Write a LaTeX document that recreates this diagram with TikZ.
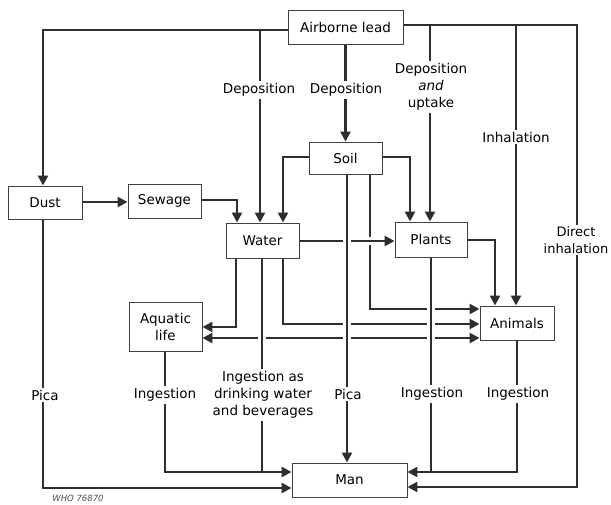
\documentclass[tikz,border=0pt]{standalone}
\usepackage{fontspec}
\setmainfont{DejaVu Sans}
\usetikzlibrary{arrows.meta,calc}
\pgfdeclarelayer{background}
\pgfsetlayers{background,main}
\begin{document}
\begin{tikzpicture}[x=1pt,y=-1pt,
  txt/.style={font=\fontsize{13.5}{17}\selectfont},
  box/.style={txt, draw=black!75, line width=0.9pt, fill=white, inner sep=0pt, align=center},
  lab/.style={txt, fill=white, inner sep=2pt, align=center},
  con/.style={draw=black!82, line width=2.6pt},
  arr/.style={con, -{Triangle[length=10pt,width=10pt]}},
  darr/.style={con, {Triangle[length=10pt,width=10pt]}-{Triangle[length=10pt,width=10pt]}},
  halo/.style={preaction={draw=white,line width=8pt,arrows=-}}
]
\useasboundingbox (0,0) rectangle (611,504);

% boxes
\node[box, minimum width=115pt, minimum height=34pt] (air) at (345.5,27) {Airborne lead};
\node[box, minimum width=73pt, minimum height=32pt] (soil) at (345.5,158) {Soil};
\node[box, minimum width=74pt, minimum height=33pt] (dust) at (45,202.5) {Dust};
\node[box, minimum width=73pt, minimum height=34pt] (sewage) at (164.5,201) {Sewage};
\node[box, minimum width=73pt, minimum height=35pt] (water) at (262.5,240.5) {Water};
\node[box, minimum width=72pt, minimum height=35pt] (plants) at (431,239.5) {Plants};
\node[box, minimum width=74pt, minimum height=34pt] (animals) at (517,323) {Animals};
\node[box, minimum width=73pt, minimum height=49pt] (aquatic) at (165.5,326.5) {Aquatic\\life};
\node[box, minimum width=115pt, minimum height=34pt] (man) at (349.5,480) {Man};

% bend / junction points
\coordinate (tl) at (43,30);
\coordinate (jw) at (260,30);
\coordinate (tr) at (577,25);
\coordinate (dr) at (577,487);
\coordinate (jp) at (430,25);
\coordinate (ja) at (516,25);
\coordinate (sw) at (283,157);
\coordinate (se) at (410,157);
\coordinate (sa) at (370,309);
\coordinate (wp) at (0,241);
\coordinate (wa) at (283,324);
\coordinate (aa) at (0,338);
\coordinate (wd) at (262,472);
\coordinate (smx) at (347,0);
\coordinate (pm) at (431,472);
\coordinate (am) at (517,472);
\coordinate (qm) at (165,472);
\coordinate (dm) at (43,488);
\coordinate (ds) at (0,202);
\coordinate (sv) at (237,200);
\coordinate (wq) at (236,327);
\coordinate (pa) at (495,240);

\begin{pgfonlayer}{background}
% from airborne lead
\draw[arr] (air.west |- tl) -- (tl) -- (tl |- dust.north);
\draw[arr] (jw) -- (jw |- water.north);
\draw[arr] (air.south) -- (soil.north);
\draw[arr] (air.east |- tr) -- (tr) -- (dr) -- (dr -| man.east);
\draw[arr] (jp) -- (jp |- plants.north);
\draw[arr] (ja) -- (ja |- animals.north);
% from soil
\draw[arr] (soil.west |- sw) -- (sw) -- (sw |- water.north);
\draw[arr] (soil.east |- se) -- (se) -- (se |- plants.north);
\draw[arr] (soil.south -| sa) -- (sa) -- (sa -| animals.west);
% dust, sewage
\draw[arr] (dust.east |- ds) -- (sewage.west |- ds);
\draw[arr] (sewage.east |- sv) -- (sv) -- (sv |- water.north);
% from water
\draw[arr,halo] (water.east |- wp) -- (plants.west |- wp);
\draw[arr] (water.south -| wq) -- (wq) -- (wq -| aquatic.east);
\draw[arr] (water.south -| wa) -- (wa) -- (wa -| animals.west);
\draw[darr] (aquatic.east |- aa) -- (animals.west |- aa);
\draw[con,halo] (water.south -| wd) -- (wd);
% soil to man (pica)
\draw[arr,halo] (soil.south -| smx) -- (man.north -| smx);
% plants
\draw[arr] (plants.east |- pa) -- (pa) -- (pa |- animals.north);
\draw[con,halo] (plants.south -| pm) -- (pm);
% to man
\draw[arr] (animals.south -| am) -- (am) -- (am -| man.east);
\draw[arr] (aquatic.south -| qm) -- (qm) -- (qm -| man.west);
\draw[arr] (dust.south -| dm) -- (dm) -- (dm -| man.west);
\end{pgfonlayer}

% labels
\node[lab] (l1) at (259,90) {Deposition};
\node[lab] (l2) at (346,90) {Deposition};
\node[lab] (l3) at (431,87) {Deposition\\\textit{and}\\uptake};
\node[lab] (l4) at (516,137) {Inhalation};
\node[lab, inner xsep=0.5pt, font=\fontsize{13}{16.5}\selectfont] (l5) at (576,240) {Direct\\inhalation};
\node[lab] (l6) at (45,395) {Pica};
\node[lab] (l7) at (165,395) {Ingestion};
\node[lab] (l8) at (263,395) {Ingestion as\\drinking water\\and beverages};
\node[lab] (l9) at (348,394) {Pica};
\node[lab] (l10) at (432,394) {Ingestion};
\node[lab] (l11) at (518,394) {Ingestion};
\node[font=\fontsize{8.5}{10}\selectfont\itshape, text=black!70] (who) at (78,498) {WHO 76870};
\end{tikzpicture}
\end{document}
